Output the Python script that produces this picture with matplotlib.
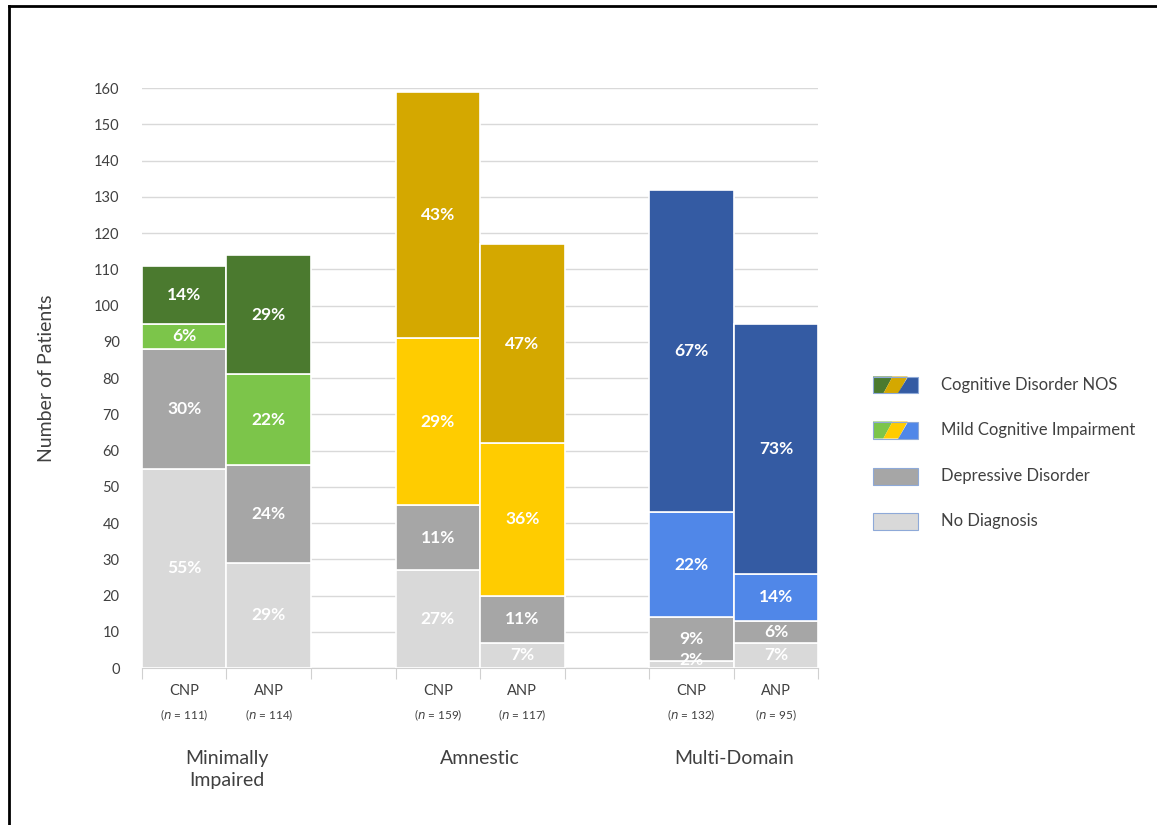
import matplotlib.pyplot as plt
from matplotlib.patches import Polygon, Rectangle
from matplotlib.lines import Line2D

plt.rcParams['font.family'] = ['Lato', 'DejaVu Sans']

groups = ['Minimally\nImpaired', 'Amnestic', 'Multi-Domain']
bar_names = ['CNP', 'ANP', 'CNP', 'ANP', 'CNP', 'ANP']
bar_n = ['111', '114', '159', '117', '132', '95']
bar_pos = [0, 1, 3, 4, 6, 7]

# stacked segment heights (number of patients), bottom to top
no_diag = [55, 29, 27, 7, 2, 7]
depressive = [33, 27, 18, 13, 12, 6]
mci = [7, 25, 46, 42, 29, 13]
nos = [16, 33, 68, 55, 89, 69]

# percent labels shown in each segment
pct_no_diag = ['55%', '29%', '27%', '7%', '2%', '7%']
pct_depressive = ['30%', '24%', '11%', '11%', '9%', '6%']
pct_mci = ['6%', '22%', '29%', '36%', '22%', '14%']
pct_nos = ['14%', '29%', '43%', '47%', '67%', '73%']

# colours per group
nos_colors = ['#4b7a2f', '#d4a800', '#345ba3']
mci_colors = ['#7cc54a', '#ffcc00', '#5087e8']
dep_color = '#a6a6a6'
nd_color = '#d9d9d9'

legend_labels = ['Cognitive Disorder NOS', 'Mild Cognitive Impairment',
                 'Depressive Disorder', 'No Diagnosis']

fig = plt.figure(figsize=(11.57, 8.25), dpi=100)
ax = fig.add_axes([0.1227, 0.1903, 0.5845, 0.703])

for i, x in enumerate(bar_pos):
    g = i // 2
    segs = [(no_diag[i], nd_color, pct_no_diag[i]),
            (depressive[i], dep_color, pct_depressive[i]),
            (mci[i], mci_colors[g], pct_mci[i]),
            (nos[i], nos_colors[g], pct_nos[i])]
    bottom = 0
    for h, c, lab in segs:
        ax.bar(x, h, bottom=bottom, width=1.0, color=c, edgecolor='white',
               linewidth=1.2, zorder=3)
        ypos = bottom + max(h / 2, 2.2)
        ax.text(x, ypos, lab, ha='center', va='center', color='white',
                fontsize=12.5, fontweight='bold', zorder=4)
        bottom += h

ax.set_xlim(-0.5, 7.5)
ax.set_ylim(0, 160)
ax.set_yticks(range(0, 161, 10))
ax.tick_params(axis='y', length=0, labelsize=10.5, labelcolor='#404040', pad=16)
ax.yaxis.grid(True, color='#d9d9d9', linewidth=1, zorder=0)
ax.set_axisbelow(True)
for s in ['top', 'right', 'left']:
    ax.spines[s].set_visible(False)
ax.spines['bottom'].set_color('#d0d0d0')
ax.set_xticks([p - 0.5 for p in range(9)])
ax.set_xticklabels([])
ax.tick_params(axis='x', length=8, color='#d0d0d0')
ax.set_ylabel('Number of Patients', fontsize=14, color='#404040', labelpad=28)

for i, x in enumerate(bar_pos):
    ax.text(x, -6.3, bar_names[i], ha='center', va='center', fontsize=10.5,
            color='#404040')
    ax.text(x, -13, '($\\it{n}$ = ' + bar_n[i] + ')', ha='center', va='center',
            fontsize=8.5, color='#404040')
for g, name in enumerate(groups):
    ax.text(3 * g + 0.5, -22.5, name, ha='center', va='top', fontsize=14,
            color='#404040', linespacing=1.4)

# legend drawn by hand (multi-colour swatches)
ys = [385, 430, 476, 521]
x0, x1 = 873 / 1157, 918 / 1157
hh = 17 / 825
for k, lab in enumerate(legend_labels):
    yc = 1 - ys[k] / 825
    y0, y1 = yc - hh / 2, yc + hh / 2
    if k < 2:
        cols = nos_colors if k == 0 else mci_colors
        w = (x1 - x0) / 3
        sk = 0.004
        pts = [
            [(x0, y0), (x0 + w - sk, y0), (x0 + w + sk, y1), (x0, y1)],
            [(x0 + w - sk, y0), (x0 + 2 * w - sk, y0), (x0 + 2 * w + sk, y1), (x0 + w + sk, y1)],
            [(x0 + 2 * w - sk, y0), (x1, y0), (x1, y1), (x0 + 2 * w + sk, y1)],
        ]
        for p, c in zip(pts, cols):
            fig.patches.append(Polygon(p, closed=True, facecolor=c, edgecolor='none',
                                       transform=fig.transFigure))
    else:
        c = dep_color if k == 2 else nd_color
    fig.patches.append(Rectangle((x0, y0), x1 - x0, y1 - y0,
                                 facecolor=c if k >= 2 else 'none',
                                 edgecolor='#8ea9d8', linewidth=0.8,
                                 transform=fig.transFigure))
    fig.text(941 / 1157, yc, lab, ha='left', va='center', fontsize=12,
             color='#404040')

# frame lines at left and top
fig.add_artist(Line2D([9 / 1157, 9 / 1157], [0, 1 - 6 / 825], color='black',
                      linewidth=2, transform=fig.transFigure))
fig.add_artist(Line2D([9 / 1157, 1], [1 - 6 / 825, 1 - 6 / 825], color='black',
                      linewidth=2, transform=fig.transFigure))

fig.savefig('out.png', dpi=100)
